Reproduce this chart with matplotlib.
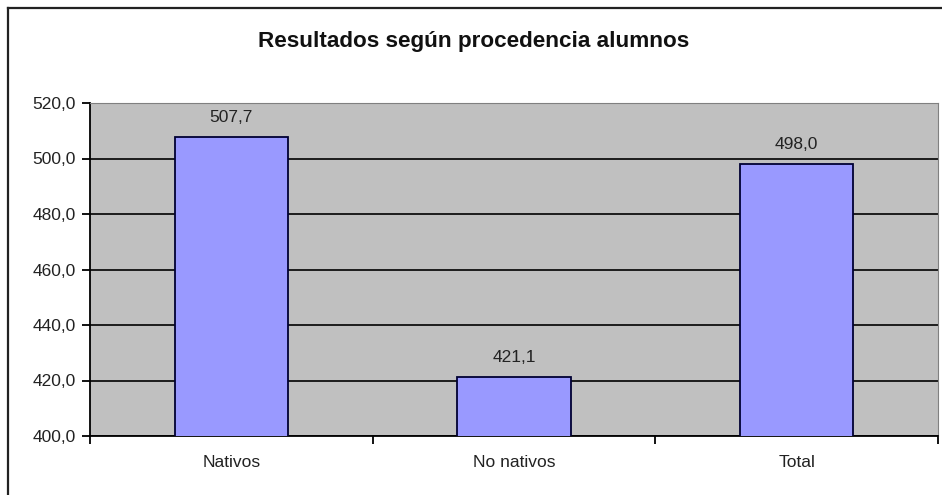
import matplotlib
matplotlib.use("Agg")
import matplotlib.pyplot as plt
from matplotlib.lines import Line2D

categories = ["Nativos", "No nativos", "Total"]
values = [507.7, 421.1, 498.0]
yticks = [400, 420, 440, 460, 480, 500, 520]

plt.rcParams["font.family"] = ["Liberation Sans", "DejaVu Sans"]

fig = plt.figure(figsize=(9.42, 4.95), dpi=100)
ax = fig.add_axes([90 / 942, 1 - 436 / 495, 848 / 942, 333 / 495])
ax.set_facecolor("#c0c0c0")

x = list(range(len(categories)))
ax.bar(x, values, width=0.4, color="#9999ff", edgecolor="#000033", linewidth=1.3, zorder=3)

for xi, v in zip(x, values):
    ax.annotate(f"{v:.1f}".replace(".", ","), (xi, v), xytext=(0, 9), textcoords="offset points",
                ha="center", va="bottom", fontsize=12.5, color="#222222")

ax.set_ylim(400, 520)
ax.set_xlim(-0.5, 2.5)
ax.set_yticks(yticks)
ax.set_yticklabels([f"{t},0" for t in yticks], fontsize=12.5, color="#222222")
ax.yaxis.grid(True, color="black", linewidth=1.2, zorder=1)
ax.set_axisbelow(True)

# category labels centred, ticks on the boundaries
ax.set_xticks([-0.5, 0.5, 1.5, 2.5])
ax.set_xticklabels([])
ax.set_xticks(x, minor=True)
ax.set_xticklabels(categories, minor=True, fontsize=12.5, color="#222222")
ax.tick_params(axis="x", which="minor", length=0, pad=14)
ax.tick_params(axis="x", which="major", direction="out", length=6, width=1.3)
ax.tick_params(axis="y", direction="out", length=6, width=1.3, pad=4)

ax.spines["left"].set_linewidth(1.3)
ax.spines["bottom"].set_linewidth(1.3)
ax.spines["top"].set_color("#808080")
ax.spines["right"].set_color("#808080")

fig.text(0.5 + 3 / 942, 1 - 41 / 495, "Resultados según procedencia alumnos", ha="center", va="center",
         fontsize=16.2, fontweight="bold", color="#111111")

# chart frame (only top and left are visible in the crop)
fig.add_artist(Line2D([8 / 942, 8 / 942], [0, 1 - 8 / 495], transform=fig.transFigure, color="#222222", linewidth=1.6))
fig.add_artist(Line2D([8 / 942, 1], [1 - 8 / 495, 1 - 8 / 495], transform=fig.transFigure, color="#222222", linewidth=1.6))

fig.savefig("out.png", dpi=100)
